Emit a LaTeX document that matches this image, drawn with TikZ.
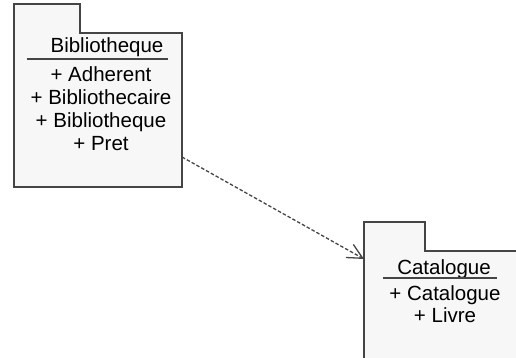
\documentclass[tikz,border=0pt]{standalone}
\usepackage{fontspec}
\setmainfont{Liberation Sans}
\usetikzlibrary{arrows.meta}
\definecolor{pkgline}{HTML}{454545}
\definecolor{pkgfill}{HTML}{F7F7F7}
\tikzset{
  pkgoutline/.style={fill=pkgfill,draw=pkgline,line width=1.5pt,line join=miter},
  pkgtext/.style={anchor=base,inner sep=0pt,font=\fontsize{20.5}{23}\selectfont},
  pkgrule/.style={draw=pkgline,line width=1.3pt},
  importarrow/.style={draw=pkgline,line width=1.3pt,dash pattern=on 3.5pt off 2pt,
    -{Straight Barb[length=15pt,width=15pt]}}
}

\begin{document}
\begin{tikzpicture}[x=1pt,y=-1pt]
  \useasboundingbox (0,0) rectangle (516,358);
  \clip (0,0) rectangle (516,358);
  % package Bibliotheque
  \path[pkgoutline] (14,4)--(80,4)--(80,33)--(182,33)--(182,187)--(14,187)--cycle;
  \node[pkgtext] (bibtitle) at (107,53) {Bibliotheque};
  \draw[pkgrule] (27,59)--(168,59);
  \foreach \cls [count=\i] in {Adherent,Bibliothecaire,Bibliotheque,Pret}
    \node[pkgtext] (bib\i) at (101,{82+23*(\i-1)}) {+ \cls};
  % package Catalogue
  \path[pkgoutline] (364,222)--(425,222)--(425,251)--(530,251)--(530,370)--(364,370)--cycle;
  \node[pkgtext] (cattitle) at (444,274) {Catalogue};
  \draw[pkgrule] (383,278)--(497,278);
  \foreach \cls [count=\i] in {Catalogue,Livre}
    \node[pkgtext] (cat\i) at (445,{300+22*(\i-1)}) {+ \cls};
  % dependency
  \coordinate (depstart) at (182,157);
  \coordinate (depend) at (364,259);
  \draw[importarrow] (depstart)--(depend);
\end{tikzpicture}
\end{document}
